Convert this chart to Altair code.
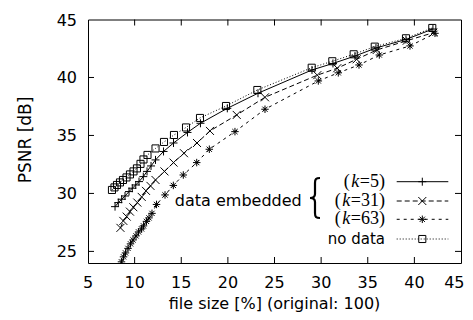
import altair as alt
import pandas as pd

# ---------------- data ----------------
x_ticks = [5, 10, 15, 20, 25, 30, 35, 40, 45]
y_ticks = [25, 30, 35, 40, 45]
x_title = "file size [%] (original: 100)"
y_title = "PSNR [dB]"

nodata_x = [7.57, 7.84, 8.11, 8.43, 8.75, 9.13, 9.50, 9.88, 10.25, 10.63, 10.95, 11.38, 12.24,
            13.15, 14.22, 15.51, 17.01, 19.80, 23.16, 28.99, 31.20, 33.49, 35.75, 39.10, 41.92]
nodata_y = [30.30, 30.52, 30.73, 30.95, 31.16, 31.38, 31.64, 31.90, 32.16, 32.55, 32.93, 33.32, 33.88,
            34.44, 35.04, 35.69, 36.51, 37.54, 38.92, 40.84, 41.40, 42.00, 42.66, 43.38, 44.27]

k5_x = [7.90, 8.25, 8.61, 8.97, 9.40, 9.75, 10.12, 10.47, 10.93, 11.33, 11.76, 12.24, 13.10,
        14.17, 15.67, 17.06, 19.94, 23.23, 29.02, 31.27, 33.63, 35.88, 39.10, 41.99]
k5_y = [28.86, 29.21, 29.50, 29.78, 30.16, 30.45, 30.73, 31.02, 31.45, 31.90, 32.37, 32.89, 33.62,
        34.35, 35.26, 36.05, 37.34, 38.64, 40.65, 41.21, 41.85, 42.54, 43.28, 44.18]

k31_x = [8.48, 8.79, 9.15, 9.50, 9.86, 10.29, 10.76, 11.22, 11.70, 12.24, 13.20, 14.17, 15.29,
         16.69, 18.08, 20.95, 23.98, 29.59, 31.73, 33.81, 35.96, 39.18, 42.03]
k31_y = [27.03, 27.63, 28.00, 28.43, 28.81, 29.21, 29.70, 30.22, 30.65, 31.16, 31.90, 32.66, 33.47,
         34.35, 35.39, 36.77, 38.29, 40.20, 40.80, 41.57, 42.37, 43.17, 43.86]

k63_x = [8.59, 8.81, 9.02, 9.29, 9.56, 9.83, 10.15, 10.42, 10.74, 10.95, 11.27, 11.54, 11.86, 12.35,
         13.26, 14.15, 15.22, 16.66, 18.01, 20.76, 23.98, 29.70, 31.84, 34.06, 36.24, 39.53, 42.21]
k63_y = [24.10, 24.53, 24.87, 25.26, 25.65, 25.99, 26.34, 26.68, 26.94, 27.20, 27.59, 27.89, 28.28, 29.05,
         29.87, 30.69, 31.59, 32.66, 33.81, 35.33, 37.26, 39.70, 40.40, 41.08, 41.94, 42.72, 43.81]

series_names = ["k5", "k31", "k63", "nodata"]
legend_k = ["=5)", "=31)", "=63)"]

# ---------------- styling ----------------
PLUS = "M-1,0L1,0M0,-1L0,1"
CROSS = "M-1,-1L1,1M-1,1L1,-1"
STAR = "M-1,0L1,0M0,-1L0,1M-0.7,-0.7L0.7,0.7M-0.7,0.7L0.7,-0.7"
BRACE = ("M0.25,-1 C0.05,-1 0,-0.95 0,-0.75 L0,-0.2 C0,-0.05 -0.1,0 -0.25,0 "
         "C-0.1,0 0,0.05 0,0.2 L0,0.75 C0,0.95 0.05,1 0.25,1")

style = {
    "k5": dict(dash=None, shape=PLUS, size=64),
    "k31": dict(dash=[5, 3], shape=CROSS, size=64),
    "k63": dict(dash=[3, 4], shape=STAR, size=56),
    "nodata": dict(dash=[1, 2], shape="square", size=50),
}

rows = []
for name, xs_, ys_ in [("k5", k5_x, k5_y), ("k31", k31_x, k31_y),
                       ("k63", k63_x, k63_y), ("nodata", nodata_x, nodata_y)]:
    for i, (a, b) in enumerate(zip(xs_, ys_)):
        rows.append({"series": name, "i": i, "x": a, "y": b})
df = pd.DataFrame(rows)

W, H = 373, 243.5
xs = alt.Scale(domain=[5, 45], nice=False, zero=False)
ys = alt.Scale(domain=[24, 45], nice=False, zero=False)

FONT = "DejaVu Sans"
SERIF = "Liberation Serif"

base = alt.Chart(df)
layers = []
for name in series_names:
    st = style[name]
    sub = base.transform_filter(alt.datum.series == name)
    line_kw = dict(color="black", strokeWidth=1, clip=True)
    if st["dash"]:
        line_kw["strokeDash"] = st["dash"]
    layers.append(sub.mark_line(**line_kw).encode(
        x=alt.X("x:Q", scale=xs, axis=None),
        y=alt.Y("y:Q", scale=ys, axis=None),
        order="i:Q"))
    layers.append(sub.mark_point(shape=st["shape"], size=st["size"], filled=False, color="black",
                                 strokeWidth=1, opacity=1, clip=True).encode(
        x=alt.X("x:Q", scale=xs, axis=None),
        y=alt.Y("y:Q", scale=ys, axis=None)))

# ---------------- axes: inward ticks on all four sides + labels ----------------
xt_in = alt.Data(values=[{"t": v} for v in x_ticks[1:-1]])
yt_in = alt.Data(values=[{"t": v} for v in y_ticks[:-1]])
xt_lab = alt.Data(values=[{"t": v} for v in x_ticks[:-1]])
xt_last = alt.Data(values=[{"t": x_ticks[-1]}])
yt_all = alt.Data(values=[{"t": v} for v in y_ticks])
TL = 6
layers.append(alt.Chart(xt_in).mark_rule(color="black", strokeWidth=1).encode(
    x=alt.X("t:Q", scale=xs, axis=None), y=alt.value(H - TL), y2=alt.value(H)))
layers.append(alt.Chart(xt_in).mark_rule(color="black", strokeWidth=1).encode(
    x=alt.X("t:Q", scale=xs, axis=None), y=alt.value(0), y2=alt.value(TL)))
layers.append(alt.Chart(yt_in).mark_rule(color="black", strokeWidth=1).encode(
    y=alt.Y("t:Q", scale=ys, axis=None), x=alt.value(0), x2=alt.value(TL)))
layers.append(alt.Chart(yt_in).mark_rule(color="black", strokeWidth=1).encode(
    y=alt.Y("t:Q", scale=ys, axis=None), x=alt.value(W - TL), x2=alt.value(W)))

layers.append(alt.Chart(xt_lab).mark_text(font=FONT, fontSize=16, color="black", align="center",
                                          baseline="alphabetic").encode(
    x=alt.X("t:Q", scale=xs, axis=None), y=alt.value(268.8), text=alt.Text("t:Q", format="d")))
# the last label is kept inside the page edge
layers.append(alt.Chart(xt_last).mark_text(font=FONT, fontSize=16, color="black", align="right",
                                           baseline="alphabetic", dx=3.5).encode(
    x=alt.X("t:Q", scale=xs, axis=None), y=alt.value(268.8), text=alt.Text("t:Q", format="d")))
layers.append(alt.Chart(yt_all).mark_text(font=FONT, fontSize=16, color="black", align="right",
                                          baseline="middle", dy=1).encode(
    y=alt.Y("t:Q", scale=ys, axis=None), x=alt.value(-11), text=alt.Text("t:Q", format="d")))

one = alt.Data(values=[{}])
layers.append(alt.Chart(one).mark_text(text=x_title, font=FONT, fontSize=16, color="black",
                                       align="center", baseline="alphabetic").encode(
    x=alt.value(W / 2), y=alt.value(289.5)))
layers.append(alt.Chart(one).mark_text(text=y_title, font=FONT, fontSize=17, color="black",
                                       align="center", baseline="alphabetic", angle=270).encode(
    x=alt.value(-57), y=alt.value(120.5)))

# ---------------- legend (inside plot) ----------------
row_y = [162.2, 181.5, 199.8, 219.5]
x_l0, x_l1, x_mk = 308.7, 360.3, 334.3
x_txt = 297

for name, yy in zip(series_names, row_y):
    st = style[name]
    rk = dict(color="black", strokeWidth=1)
    if st["dash"]:
        rk["strokeDash"] = st["dash"]
    layers.append(alt.Chart(one).mark_rule(**rk).encode(
        x=alt.value(x_l0), x2=alt.value(x_l1), y=alt.value(yy)))
    layers.append(alt.Chart(one).mark_point(shape=st["shape"], size=st["size"], filled=False,
                                            color="black", strokeWidth=1, opacity=1).encode(
        x=alt.value(x_mk), y=alt.value(yy)))

fs = 18
char_w = {"=": 0.564, "5": 0.5, "3": 0.5, "1": 0.5, "6": 0.5, ")": 0.333}
for lab, yy in zip(legend_k, row_y[:3]):
    w_tail = sum(char_w[c] for c in lab) * fs
    xk = x_txt - w_tail - 0.5
    xp = xk - 0.444 * fs - 1.5
    layers.append(alt.Chart(one).mark_text(text=lab, align="right", baseline="middle", font=SERIF,
                                           fontSize=fs, color="black").encode(
        x=alt.value(x_txt), y=alt.value(yy)))
    layers.append(alt.Chart(one).mark_text(text="k", align="right", baseline="middle", font=SERIF,
                                           fontSize=fs, fontStyle="italic", color="black").encode(
        x=alt.value(xk), y=alt.value(yy)))
    layers.append(alt.Chart(one).mark_text(text="(", align="right", baseline="middle", font=SERIF,
                                           fontSize=fs, color="black").encode(
        x=alt.value(xp), y=alt.value(yy)))

layers.append(alt.Chart(one).mark_text(text="no data", align="right", baseline="middle", font=FONT,
                                       fontSize=15, color="black").encode(
    x=alt.value(x_txt), y=alt.value(row_y[3])))
layers.append(alt.Chart(one).mark_text(text="data embedded", align="right", baseline="middle", font=FONT,
                                       fontSize=16, color="black").encode(
    x=alt.value(213.7), y=alt.value(181.5)))
layers.append(alt.Chart(one).mark_point(shape=BRACE, size=1600, filled=False, color="black",
                                        strokeWidth=2.2, opacity=1).encode(
    x=alt.value(227), y=alt.value(178.5)))

chart = alt.layer(*layers).properties(
    width=W, height=H,
    padding={"left": 80, "top": 11.5, "right": 4, "bottom": 49},
    autosize=alt.AutoSizeParams(type="none"),
    background="white",
).configure_view(stroke="black", strokeWidth=1)

chart.save("out.html", embed_options={"renderer": "svg", "actions": False})
